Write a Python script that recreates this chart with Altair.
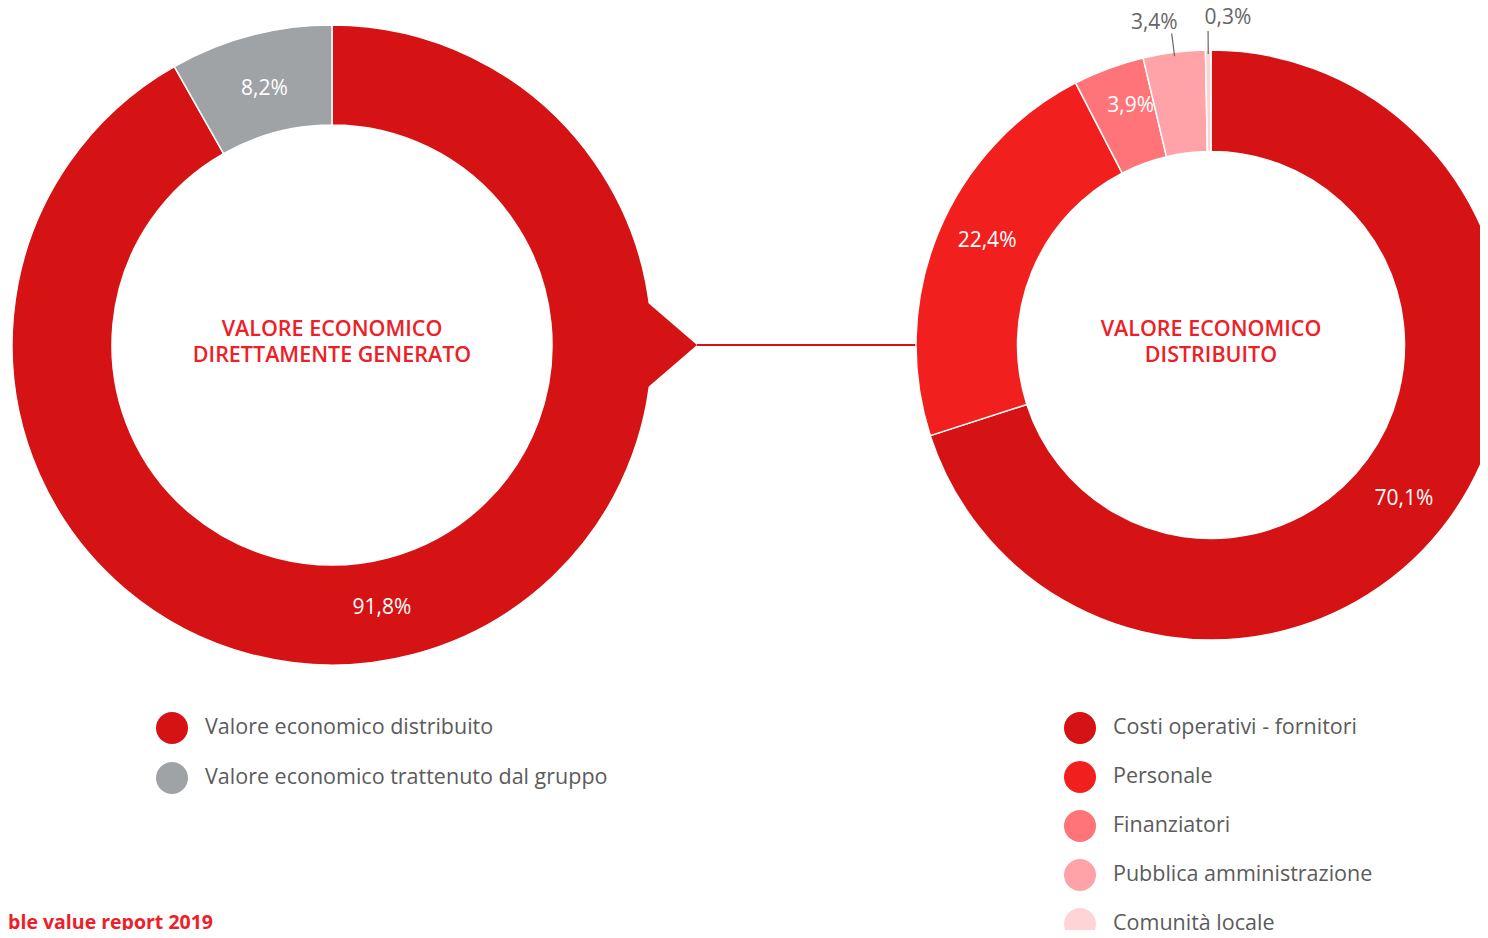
import altair as alt
import pandas as pd
import numpy as np

# ---------------- data ----------------
left_cats = ["Valore economico distribuito", "Valore economico trattenuto dal gruppo"]
left_vals = [91.8, 8.2]
left_labels = ["91,8%", "8,2%"]
left_colors = ["#D51214", "#A0A3A6"]

right_cats = ["Costi operativi - fornitori", "Personale", "Finanziatori",
              "Pubblica amministrazione", "Comunità locale"]
right_vals = [70.1, 22.4, 3.9, 3.4, 0.3]
right_labels = ["70,1%", "22,4%", "3,9%", "3,4%", "0,3%"]
right_colors = ["#D51214", "#F21F1F", "#FF7479", "#FFA3A8", "#FFD4D6"]

left_title = ["VALORE ECONOMICO", "DIRETTAMENTE GENERATO"]
right_title = ["VALORE ECONOMICO", "DISTRIBUITO"]
footer = "Sustainable value report 2019"

# ---------------- layout ----------------
W, H = 1472, 922
FONT = "Open Sans"
L_CX, L_CY, L_RO, L_RI = 324, 337, 320, 220
R_CX, R_CY, R_RO, R_RI = 1203, 337, 295, 193.5
DARK = "#D51214"
TXT = "#5B5B5B"
TITLE_RED = "#EE2027"

ldf = pd.DataFrame({"cat": left_cats, "value": left_vals, "label": left_labels,
                    "idx": list(range(len(left_cats)))})
ldf["big"] = [l if v >= 50 else "" for l, v in zip(left_labels, left_vals)]
ldf["small"] = [l if v < 50 else "" for l, v in zip(left_labels, left_vals)]

rdf = pd.DataFrame({"cat": right_cats, "value": right_vals, "label": right_labels,
                    "idx": list(range(len(right_cats)))})
rdf["inner"] = [l if v >= 10 else "" for l, v in zip(right_labels, right_vals)]
rdf["narrow"] = [l if 3.5 <= v < 10 else "" for l, v in zip(right_labels, right_vals)]
rdf["outerA"] = [l if i == 3 else "" for i, l in enumerate(right_labels)]
rdf["outerB"] = [l if i == 4 else "" for i, l in enumerate(right_labels)]

# leader lines for the small slices (derived from the values)
tot = float(np.sum(right_vals))
cum = np.cumsum(right_vals) / tot
mid = (cum - np.array(right_vals) / tot / 2) * 2 * np.pi
small = np.array(right_vals) < 3.5
lead = pd.DataFrame({
    "x1": R_CX + 291 * np.sin(mid[small]),
    "y1": R_CY - 291 * np.cos(mid[small]),
    "x2": R_CX + 314 * np.sin(mid[small]),
    "y2": R_CY - 314 * np.cos(mid[small]),
})

xs = alt.Scale(domain=[0, W], nice=False, zero=False)
ys = alt.Scale(domain=[0, H], nice=False, zero=False, reverse=True)

theta = alt.Theta("value:Q", stack="normalize")
order = alt.Order("idx:Q", sort="ascending")


def legend(x, y, rowpad):
    return alt.Legend(orient="none", legendX=x, legendY=y, title=None,
                      symbolType="circle", symbolSize=1024, symbolStrokeWidth=0,
                      symbolOpacity=1, labelFont=FONT, labelFontSize=21.5,
                      labelColor=TXT, labelOffset=17, rowPadding=rowpad,
                      padding=0, labelLimit=600, direction="vertical")


def pct(df, field, radius, color="white", dx=0, toff=0.0):
    return alt.Chart(df).mark_text(radius=radius, font=FONT, fontSize=21,
                                   color=color, dx=dx, thetaOffset=toff).encode(
        theta=theta, order=order, text=f"{field}:N",
        x=alt.value(L_CX if df is ldf else R_CX),
        y=alt.value(L_CY if df is ldf else R_CY),
    )


# left donut
left_arc = alt.Chart(ldf).mark_arc(radius=L_RO, radius2=L_RI, stroke="white",
                                   strokeWidth=1.5).encode(
    theta=theta, order=order,
    color=alt.Color("cat:N", scale=alt.Scale(domain=left_cats, range=left_colors),
                    legend=legend(148, 704, 18)),
    x=alt.value(L_CX), y=alt.value(L_CY),
)
left_big = pct(ldf, "big", 268, toff=0.07)
left_small = pct(ldf, "small", 265)

# connector pointer + line
tri = pd.DataFrame({"x": [628, 689], "y": [337 - 52.5, 337], "y2": [337 + 52.5, 337]})
pointer = alt.Chart(tri).mark_area(color=DARK).encode(
    x=alt.X("x:Q", scale=xs, axis=None),
    y=alt.Y("y:Q", scale=ys, axis=None),
    y2="y2:Q",
)
conn = pd.DataFrame({"x": [689], "x2": [909], "y": [337]})
conn_line = alt.Chart(conn).mark_rule(color=DARK, strokeWidth=2).encode(
    x=alt.X("x:Q", scale=xs, axis=None), x2="x2:Q",
    y=alt.Y("y:Q", scale=ys, axis=None),
)

# right donut
right_arc = alt.Chart(rdf).mark_arc(radius=R_RO, radius2=R_RI, stroke="white",
                                    strokeWidth=1.5).encode(
    theta=theta, order=order,
    color=alt.Color("cat:N", scale=alt.Scale(domain=right_cats, range=right_colors),
                    legend=legend(1056, 704, 17)),
    x=alt.value(R_CX), y=alt.value(R_CY),
)
right_in = pct(rdf, "inner", 247, toff=0.045)
right_narrow = pct(rdf, "narrow", 252, toff=0.03)
right_outA = pct(rdf, "outerA", 325, color="#666666", dx=-16)
right_outB = pct(rdf, "outerB", 327, color="#666666", dx=20)
leaders = alt.Chart(lead).mark_rule(color="#666666", strokeWidth=1.2).encode(
    x=alt.X("x1:Q", scale=xs, axis=None), x2="x2:Q",
    y=alt.Y("y1:Q", scale=ys, axis=None), y2="y2:Q",
)

one = pd.DataFrame({"k": [0]})
ltitle = alt.Chart(one).mark_text(text=left_title, font=FONT, fontSize=21.5,
                                  fontWeight=600, color=TITLE_RED, lineHeight=26,
                                  baseline="middle").encode(
    x=alt.value(L_CX), y=alt.value(322))
rtitle = alt.Chart(one).mark_text(text=right_title, font=FONT, fontSize=21.5,
                                  fontWeight=600, color=TITLE_RED, lineHeight=26,
                                  baseline="middle").encode(
    x=alt.value(R_CX), y=alt.value(322))
foot = alt.Chart(one).mark_text(text=footer, font=FONT, fontSize=19.5,
                                fontWeight="bold", color=TITLE_RED, align="right",
                                baseline="alphabetic").encode(
    x=alt.value(205), y=alt.value(921))

chart = alt.layer(
    left_arc, pointer, left_big, left_small, conn_line,
    right_arc, right_in, right_narrow, leaders, right_outA, right_outB,
    ltitle, rtitle, foot,
).resolve_scale(color="independent").properties(
    width=W, height=H, padding=0, autosize=alt.AutoSizeParams(type="none"),
).configure_view(stroke=None)

chart.save("out.html", embed_options={"renderer": "svg", "actions": False})
